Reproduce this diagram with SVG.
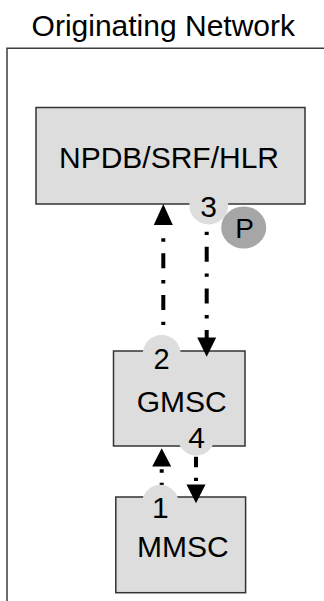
<svg xmlns="http://www.w3.org/2000/svg" width="324" height="601" viewBox="0 0 324 601">
<style>
text{font-family:"Liberation Sans",Arial,sans-serif;fill:#000;text-anchor:middle}
.box{fill:#dddddd;stroke:#333;stroke-width:1.5}
.lbl{font-size:30px}
.badge{fill:#dddddd}
.conn{stroke:#000;stroke-width:4;fill:none}
.head{fill:#000}
</style>
<g id="frame">
<text class="lbl" x="163.3" y="36">Originating Network</text>
<path d="M7 602 V48.3 H326" fill="none" stroke="#3c3c3c" stroke-width="1.5"/>
</g>
<g id="npdb">
<rect class="box" x="36" y="107.5" width="269" height="96.5"/>
<text class="lbl" x="169" y="168.3">NPDB/SRF/HLR</text>
</g>
<g id="gmsc">
<rect class="box" x="113.5" y="351" width="131.5" height="95"/>
<text class="lbl" x="181.7" y="411.7">GMSC</text>
</g>
<g id="mmsc">
<rect class="box" x="115.8" y="497" width="129.8" height="95.7"/>
<text class="lbl" x="182.8" y="557.3">MMSC</text>
</g>
<g id="connectors">
<path class="conn" d="M163.3 238.3 V335" stroke-dasharray="3.4 11.6 15 11.7"/>
<polygon class="head" points="163.3,204 153.8,225 172.8,225"/>
<path class="conn" d="M206.7 231.7 V340" stroke-dasharray="3.4 11.6 15 11.7"/>
<polygon class="head" points="197.2,337.5 216.2,337.5 206.7,356.7"/>
<path class="conn" d="M161.7 469.3 V487" stroke-dasharray="3.4 10 15 20"/>
<polygon class="head" points="161.7,448.3 152.2,466.5 171.2,466.5"/>
<path class="conn" d="M196 456.7 V486" stroke-dasharray="10.6 10.4 3.4 20"/>
<polygon class="head" points="186.5,484.5 205.5,484.5 196,503.3"/>
</g>
<g id="badge3">
<circle class="badge" cx="208.8" cy="205" r="19.5"/>
<text class="lbl" x="208.7" y="216.7">3</text>
</g>
<g id="badgeP">
<ellipse cx="243.7" cy="227.5" rx="22.5" ry="21" fill="#a6a6a6"/>
<text x="244.5" y="238.3" font-size="28">P</text>
</g>
<g id="badge2">
<circle class="badge" cx="161.7" cy="354" r="19"/>
<text x="161.5" y="368.5" font-size="29">2</text>
</g>
<g id="badge4">
<circle class="badge" cx="196.2" cy="437.5" r="18.2"/>
<text class="lbl" x="196.5" y="448.3">4</text>
</g>
<g id="badge1">
<circle class="badge" cx="160.3" cy="503" r="18.2"/>
<text class="lbl" x="160.3" y="518.3">1</text>
</g>
</svg>
